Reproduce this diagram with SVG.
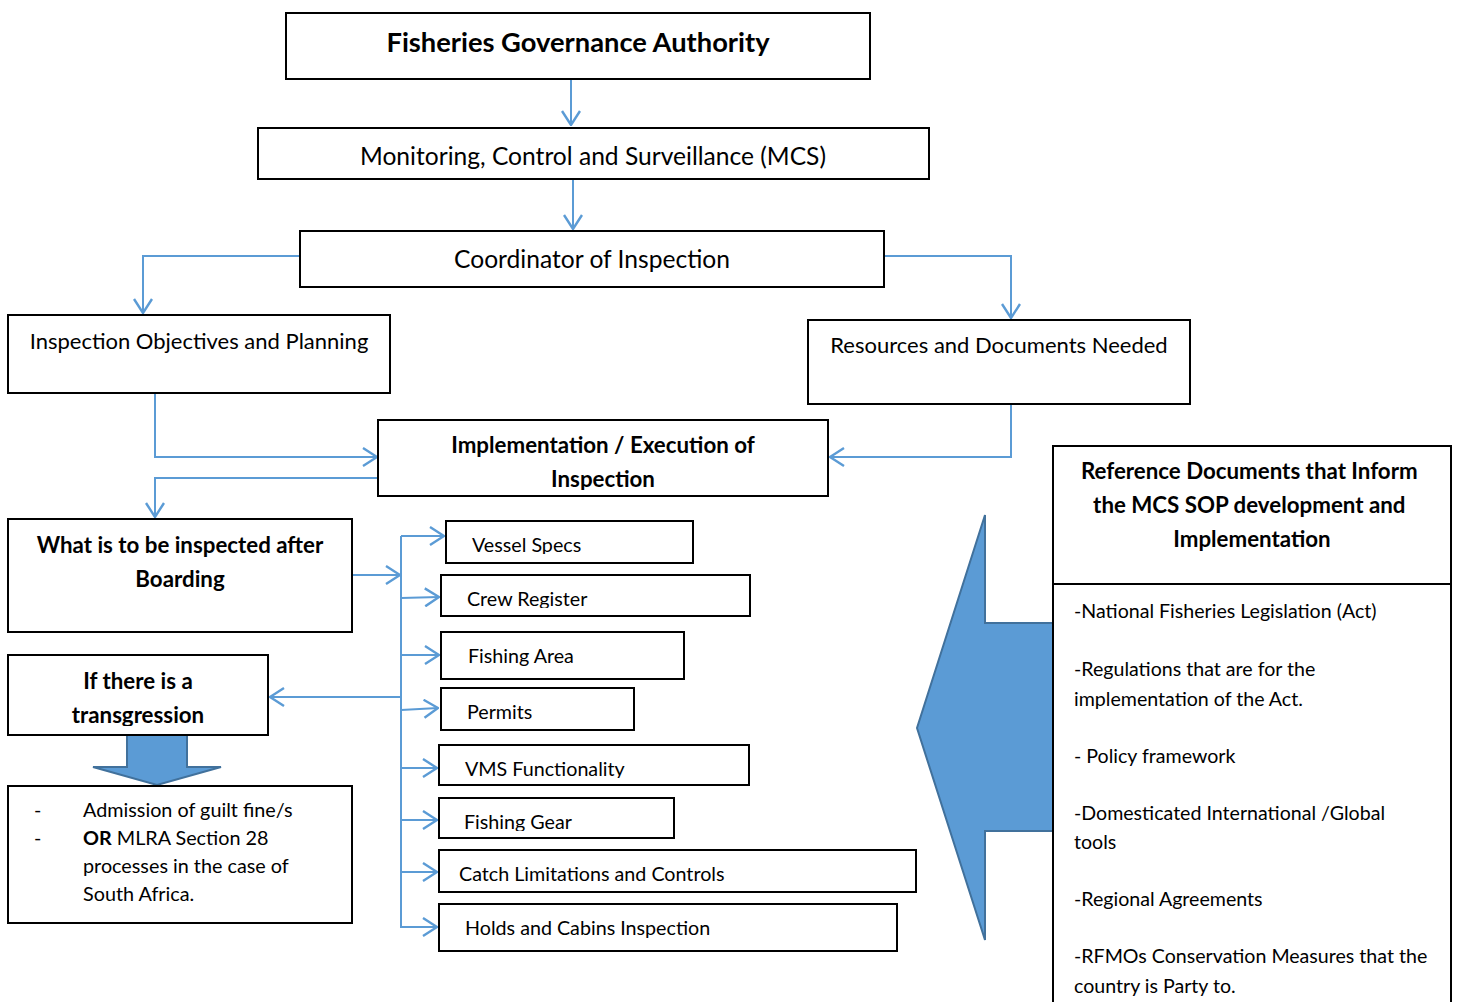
<svg xmlns="http://www.w3.org/2000/svg" width="1458" height="1002" viewBox="0 0 1458 1002">
<style>
.box{fill:#fff;stroke:#000;stroke-width:2}
.t{font-family:Lato,"Liberation Sans",sans-serif;fill:#000}
.b{font-weight:bold}
.c{stroke:#5B9BD5;stroke-width:2;fill:none}
.blk{fill:#5B9BD5;stroke:#41719C;stroke-width:2}
</style>
<defs>
<marker id="ah" viewBox="0 0 16 20" refX="15" refY="10" markerWidth="16" markerHeight="20" markerUnits="userSpaceOnUse" orient="auto">
<path d="M1,1 L15,10 L1,19" fill="none" stroke="#5B9BD5" stroke-width="2.4"/>
</marker>
<clipPath id="c6"><rect x="378" y="420" width="450" height="70"/></clipPath>
<clipPath id="cv"><rect x="446" y="521" width="247" height="33"/></clipPath>
<clipPath id="cc"><rect x="441" y="575" width="309" height="33"/></clipPath>
<clipPath id="cm"><rect x="439" y="745" width="310" height="33"/></clipPath>
<clipPath id="cg"><rect x="439" y="798" width="235" height="33"/></clipPath>
<clipPath id="ct"><rect x="8" y="655" width="260" height="71"/></clipPath>
</defs>

<g id="connectors">
<path class="c" d="M571,79 V125" marker-end="url(#ah)"/>
<path class="c" d="M573,179 V229" marker-end="url(#ah)"/>
<path class="c" d="M300,256 H143 V313" marker-end="url(#ah)"/>
<path class="c" d="M884,256 H1011 V318" marker-end="url(#ah)"/>
<path class="c" d="M155,393 V457 H377" marker-end="url(#ah)"/>
<path class="c" d="M1011,404 V457 H830" marker-end="url(#ah)"/>
<path class="c" d="M378,478 H155 V517" marker-end="url(#ah)"/>
<path class="c" d="M352,575 H400" marker-end="url(#ah)"/>
<path class="c" d="M401,536 V928"/>
<path class="c" d="M401,536 H444" marker-end="url(#ah)"/>
<path class="c" d="M401,598 L439,597" marker-end="url(#ah)"/>
<path class="c" d="M401,655 H439" marker-end="url(#ah)"/>
<path class="c" d="M401,710 L438,708" marker-end="url(#ah)"/>
<path class="c" d="M401,768 H437" marker-end="url(#ah)"/>
<path class="c" d="M401,820 H437" marker-end="url(#ah)"/>
<path class="c" d="M401,872 H437" marker-end="url(#ah)"/>
<path class="c" d="M401,927 H437" marker-end="url(#ah)"/>
<path class="c" d="M401,697 H270" marker-end="url(#ah)"/>
<path class="blk" d="M127,735 H187 V767 H221 L157,785 L93,767 H127 Z"/>
<path class="blk" d="M1053,623 H985 V515 L917,728 L985,940 V831 H1053 Z"/>
</g>

<g id="n-authority">
<rect class="box" x="286" y="13" width="584" height="66"/>
<text class="t b" x="578" y="52" font-size="27.3" text-anchor="middle">Fisheries Governance Authority</text>
</g>
<g id="n-mcs">
<rect class="box" x="258" y="128" width="671" height="51"/>
<text class="t" x="593" y="165" font-size="24.6" text-anchor="middle">Monitoring, Control and Surveillance (MCS)</text>
</g>
<g id="n-coordinator">
<rect class="box" x="300" y="231" width="584" height="56"/>
<text class="t" x="592" y="268" font-size="24.6" text-anchor="middle">Coordinator of Inspection</text>
</g>
<g id="n-objectives">
<rect class="box" x="8" y="315" width="382" height="78"/>
<text class="t" x="199" y="349" font-size="22" text-anchor="middle">Inspection Objectives and Planning</text>
</g>
<g id="n-resources">
<rect class="box" x="808" y="320" width="382" height="84"/>
<text class="t" x="999" y="353" font-size="22" text-anchor="middle">Resources and Documents Needed</text>
</g>
<g id="n-implementation">
<rect class="box" x="378" y="420" width="450" height="76"/>
<g clip-path="url(#c6)">
<text class="t b" x="603" y="453" font-size="22.3" text-anchor="middle">Implementation / Execution of</text>
<text class="t b" x="603" y="487" font-size="22.3" text-anchor="middle">Inspection</text>
</g>
</g>
<g id="n-what">
<rect class="box" x="8" y="519" width="344" height="113"/>
<text class="t b" x="180" y="553" font-size="22.3" text-anchor="middle">What is to be inspected after</text>
<text class="t b" x="180" y="587" font-size="22.3" text-anchor="middle">Boarding</text>
</g>
<g id="n-transgression">
<rect class="box" x="8" y="655" width="260" height="80"/>
<g clip-path="url(#ct)">
<text class="t b" x="138" y="689" font-size="22.3" text-anchor="middle">If there is a</text>
<text class="t b" x="138" y="723" font-size="22.3" text-anchor="middle">transgression</text>
</g>
</g>
<g id="n-outcome">
<rect class="box" x="8" y="786" width="344" height="137"/>
<text class="t" font-size="19.8">
<tspan x="34" y="817">-</tspan><tspan x="83" y="817">Admission of guilt fine/s</tspan>
<tspan x="34" y="845">-</tspan><tspan x="83" y="845" font-weight="bold">OR</tspan><tspan> MLRA Section 28</tspan>
<tspan x="83" y="873">processes in the case of</tspan>
<tspan x="83" y="901">South Africa.</tspan>
</text>
</g>
<g id="n-vessel">
<rect class="box" x="446" y="521" width="247" height="42"/>
<text class="t" x="472" y="552" font-size="19.7" clip-path="url(#cv)">Vessel Specs</text>
</g>
<g id="n-crew">
<rect class="box" x="441" y="575" width="309" height="41"/>
<text class="t" x="467" y="606" font-size="19.7" clip-path="url(#cc)">Crew Register</text>
</g>
<g id="n-area">
<rect class="box" x="441" y="632" width="243" height="47"/>
<text class="t" x="468" y="663" font-size="19.7">Fishing Area</text>
</g>
<g id="n-permits">
<rect class="box" x="441" y="688" width="193" height="42"/>
<text class="t" x="467" y="719" font-size="19.7">Permits</text>
</g>
<g id="n-vms">
<rect class="box" x="439" y="745" width="310" height="40"/>
<text class="t" x="465" y="776" font-size="19.7" clip-path="url(#cm)">VMS Functionality</text>
</g>
<g id="n-gear">
<rect class="box" x="439" y="798" width="235" height="40"/>
<text class="t" x="464" y="829" font-size="19.7" clip-path="url(#cg)">Fishing Gear</text>
</g>
<g id="n-catch">
<rect class="box" x="439" y="850" width="477" height="42"/>
<text class="t" x="459" y="881" font-size="19.7">Catch Limitations and Controls</text>
</g>
<g id="n-holds">
<rect class="box" x="439" y="904" width="458" height="47"/>
<text class="t" x="465" y="935" font-size="19.7">Holds and Cabins Inspection</text>
</g>
<g id="n-reference">
<rect class="box" x="1053" y="446" width="398" height="560"/>
<line x1="1053" y1="584" x2="1451" y2="584" stroke="#000" stroke-width="2"/>
<text class="t b" font-size="22.3" text-anchor="middle">
<tspan x="1252" y="479">Reference Documents that Inform</tspan>
<tspan x="1252" y="513">the MCS SOP development and</tspan>
<tspan x="1252" y="547">Implementation</tspan>
</text>
<text class="t" font-size="19.6">
<tspan x="1074" y="618">-National Fisheries Legislation (Act)</tspan>
<tspan x="1074" y="676">-Regulations that are for the</tspan>
<tspan x="1074" y="706">implementation of the Act.</tspan>
<tspan x="1074" y="763">- Policy framework</tspan>
<tspan x="1074" y="820">-Domesticated International /Global</tspan>
<tspan x="1074" y="849">tools</tspan>
<tspan x="1074" y="906">-Regional Agreements</tspan>
<tspan x="1074" y="963">-RFMOs Conservation Measures that the</tspan>
<tspan x="1074" y="993">country is Party to.</tspan>
</text>
</g>
</svg>
